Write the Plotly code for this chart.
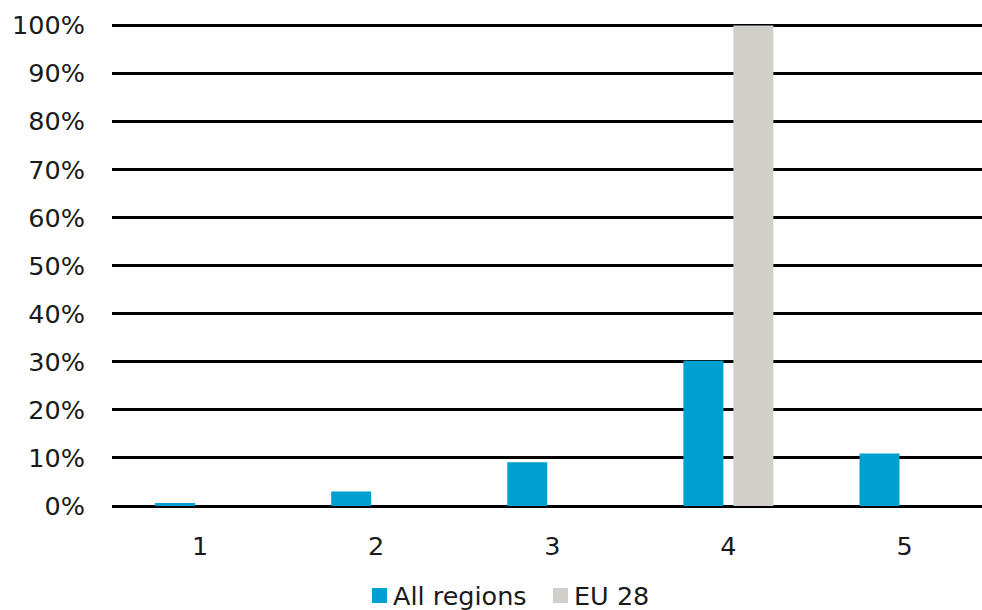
import plotly.graph_objects as go

categories = ["1", "2", "3", "4", "5"]
all_regions = [0.6, 3.0, 9.1, 30.2, 10.9]
eu28 = [0, 0, 0, 100, 0]
tick_vals = [0, 10, 20, 30, 40, 50, 60, 70, 80, 90, 100]
tick_text = [f"{v}%" for v in tick_vals]
series_names = ["All regions", "EU 28"]

BLUE = "#009FD1"
GRAY = "#D2CFCB"
FONT = "DejaVu Sans"
FS = 25.5
TXT = "#1a1a1a"

W, H = 982, 610
ML, MR, MT, MB = 112, 0, 23, 104

fig = go.Figure()
fig.add_trace(go.Bar(x=categories, y=all_regions, name=series_names[0],
                     marker=dict(color=BLUE, line=dict(width=0))))
fig.add_trace(go.Bar(x=categories, y=eu28, name=series_names[1],
                     marker=dict(color=GRAY, line=dict(width=0))))

# custom legend (pixel placement converted to paper coords)
pw, ph = W - ML - MR, H - MT - MB
def px(x):
    return (x - ML) / pw
def py(y):
    return (H - MB - y) / ph

legend_items = [(372, BLUE, series_names[0]), (553, GRAY, series_names[1])]
for x0, col, name in legend_items:
    fig.add_shape(type="rect", xref="paper", yref="paper",
                  x0=px(x0), x1=px(x0 + 15), y0=py(603), y1=py(588),
                  fillcolor=col, line=dict(width=0))
    fig.add_annotation(xref="paper", yref="paper", x=px(x0 + 19), y=py(596),
                       xanchor="left", yanchor="middle", showarrow=False,
                       text=name, font=dict(family=FONT, size=FS, color=TXT))

fig.update_layout(
    width=W, height=H,
    margin=dict(l=ML, r=MR, t=MT, b=MB, autoexpand=False),
    paper_bgcolor="white", plot_bgcolor="white",
    barmode="group", bargap=0.432, bargroupgap=0.2,
    font=dict(family=FONT, size=FS, color=TXT),
    showlegend=False,
    xaxis=dict(type="category", range=[-0.5, 4.44], showgrid=False, showline=False,
               zeroline=False, ticks="", ticklabelstandoff=22,
               tickfont=dict(family=FONT, size=FS, color=TXT)),
    yaxis=dict(range=[0, 100.5], tickvals=tick_vals, ticktext=tick_text,
               showgrid=True, gridcolor="#000000", gridwidth=2.5,
               zeroline=True, zerolinecolor="#000000", zerolinewidth=2.5,
               showline=False, ticks="", ticklabelstandoff=26,
               tickfont=dict(family=FONT, size=FS, color=TXT)),
)

fig.write_html("out.html")
